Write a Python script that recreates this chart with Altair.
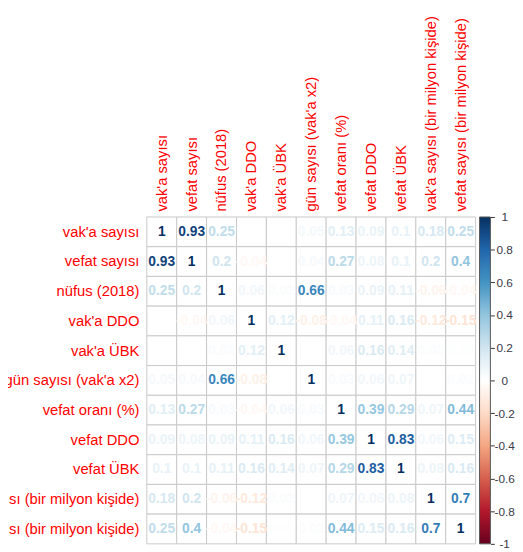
import altair as alt
import pandas as pd

variables = [
    "vak'a sayısı",
    "vefat sayısı",
    "nüfus (2018)",
    "vak'a DDO",
    "vak'a ÜBK",
    "gün sayısı (vak'a x2)",
    "vefat oranı (%)",
    "vefat DDO",
    "vefat ÜBK",
    "vak'a sayısı (bir milyon kişide)",
    "vefat sayısı (bir milyon kişide)",
]

row_vaka_sayisi   = [1.00, 0.93, 0.25, 0.00, 0.00, 0.05, 0.13, 0.09, 0.10, 0.18, 0.25]
row_vefat_sayisi  = [0.93, 1.00, 0.20, -0.04, 0.00, 0.04, 0.27, 0.08, 0.10, 0.20, 0.40]
row_nufus         = [0.25, 0.20, 1.00, 0.06, 0.02, 0.66, 0.03, 0.09, 0.11, -0.06, -0.04]
row_vaka_ddo      = [0.00, -0.04, 0.06, 1.00, 0.12, -0.08, -0.04, 0.11, 0.16, -0.12, -0.15]
row_vaka_ubk      = [0.00, 0.00, 0.02, 0.12, 1.00, 0.00, 0.06, 0.16, 0.14, 0.02, 0.01]
row_gun_sayisi    = [0.05, 0.04, 0.66, -0.08, 0.00, 1.00, 0.03, 0.06, 0.07, 0.00, 0.02]
row_vefat_orani   = [0.13, 0.27, 0.03, -0.04, 0.06, 0.03, 1.00, 0.39, 0.29, 0.07, 0.44]
row_vefat_ddo     = [0.09, 0.08, 0.09, 0.11, 0.16, 0.06, 0.39, 1.00, 0.83, 0.06, 0.15]
row_vefat_ubk     = [0.10, 0.10, 0.11, 0.16, 0.14, 0.07, 0.29, 0.83, 1.00, 0.08, 0.16]
row_vaka_milyon   = [0.18, 0.20, -0.06, -0.12, 0.02, 0.00, 0.07, 0.06, 0.08, 1.00, 0.70]
row_vefat_milyon  = [0.25, 0.40, -0.04, -0.15, 0.01, 0.02, 0.44, 0.15, 0.16, 0.70, 1.00]

corr_rows = [
    row_vaka_sayisi, row_vefat_sayisi, row_nufus, row_vaka_ddo, row_vaka_ubk,
    row_gun_sayisi, row_vefat_orani, row_vefat_ddo, row_vefat_ubk,
    row_vaka_milyon, row_vefat_milyon,
]

legend_ticks = [-1, -0.8, -0.6, -0.4, -0.2, 0, 0.2, 0.4, 0.6, 0.8, 1]
rdbu = ["#67001F", "#B2182B", "#D6604D", "#F4A582", "#FDDBC7", "#FFFFFF",
        "#D1E5F0", "#92C5DE", "#4393C3", "#2166AC", "#053061"]


def fmt(v):
    s = f"{v:.2f}".rstrip("0").rstrip(".")
    return "0" if s in ("-0", "") else s


records = []
for i, rname in enumerate(variables):
    for j, cname in enumerate(variables):
        v = corr_rows[i][j]
        records.append({"row": rname, "col": cname, "value": v, "label": fmt(v)})
df = pd.DataFrame(records)
ticks_df = pd.DataFrame({"tick": legend_ticks})

FONT = "Liberation Sans"
W, H = 334, 332
BAR_GAP = 4
BAR_W = 11

x_enc = alt.X("col:N", sort=variables, scale=alt.Scale(paddingInner=0, paddingOuter=0),
              axis=alt.Axis(orient="top", labelAngle=-90, title=None, ticks=False, domain=False,
                            labelColor="#FF0000", labelFont=FONT, labelFontSize=15,
                            labelPadding=6, labelLimit=0))
y_enc = alt.Y("row:N", sort=variables, scale=alt.Scale(paddingInner=0, paddingOuter=0),
              axis=alt.Axis(orient="left", title=None, ticks=False, domain=False,
                            labelColor="#FF0000", labelFont=FONT, labelFontSize=15,
                            labelPadding=8, labelLimit=0))

base = alt.Chart(df)

cells = base.mark_rect(fill="white", stroke="#c8c8c8", strokeWidth=1).encode(x=x_enc, y=y_enc)

texts = base.mark_text(font=FONT, fontSize=14, fontWeight="bold").encode(
    x=x_enc,
    y=y_enc,
    text="label:N",
    color=alt.Color(
        "value:Q",
        scale=alt.Scale(domain=legend_ticks, range=rdbu, type="linear", interpolate="rgb"),
        legend=alt.Legend(
            orient="none", legendX=W + BAR_GAP, legendY=0, direction="vertical",
            gradientLength=H, gradientThickness=BAR_W, title=None,
            values=legend_ticks, labelOverlap=False, labelExpr="''",
            gradientStrokeColor="#555555", gradientStrokeWidth=1, padding=0,
        ),
    ),
)

bar_axis = alt.Chart(ticks_df).mark_point(opacity=0).encode(
    y=alt.Y("tick:Q", scale=alt.Scale(domain=[-1, 1], nice=False, zero=False),
            axis=alt.Axis(orient="right", offset=BAR_GAP + BAR_W, values=legend_ticks,
                          ticks=True, tickSize=4, tickColor="#333333", tickWidth=1,
                          domain=False, grid=False, title=None, labelOverlap=False,
                          labelFlush=False, labelAlign="center", labelPadding=10,
                          labelFont=FONT, labelFontSize=12, labelColor="#3a3a4a",
                          labelExpr="datum.value == 0 ? '0' : (datum.value < 0 ? '-' : '') + format(abs(datum.value), '')")),
)

matrix = alt.layer(cells, texts)

chart = (
    alt.layer(matrix, bar_axis)
    .resolve_scale(y="independent")
    .properties(
        width=W, height=H,
        autosize=alt.AutoSizeParams(type="none"),
        padding={"left": 141, "top": 208, "right": 40, "bottom": 4},
    )
    .configure_view(stroke=None)
)

chart.save("out.html", embed_options={"renderer": "svg", "actions": False})
